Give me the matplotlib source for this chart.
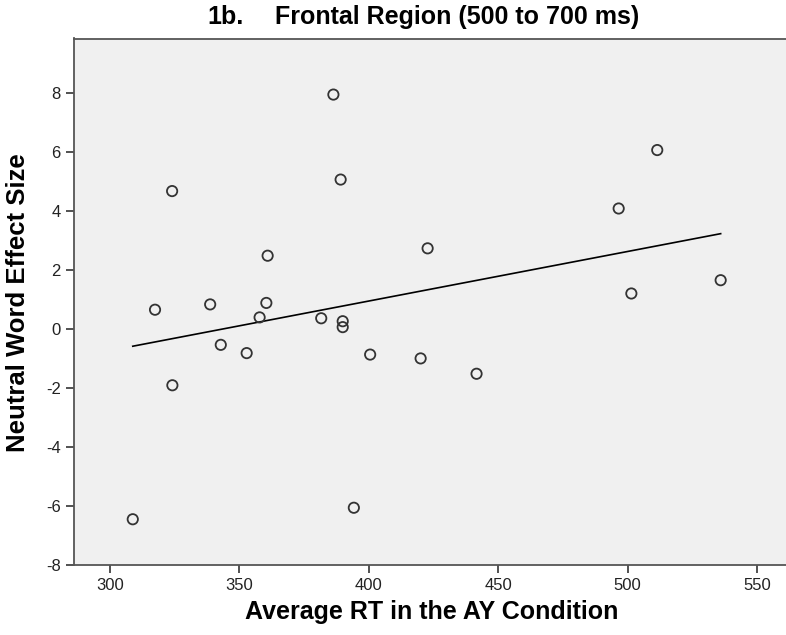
import numpy as np
import matplotlib
matplotlib.use('Agg')
import matplotlib.pyplot as plt

# average RT in the AY condition (ms) and neutral word effect size
avg_rt = [324.0, 360.9, 317.4, 338.7, 360.4, 357.8, 342.8, 352.8, 324.1, 308.8,
          381.6, 389.9, 389.9, 400.5, 420.0, 441.6, 394.2, 386.3, 389.1, 422.7,
          511.4, 496.5, 501.4, 535.9]
effect = [4.67, 2.48, 0.65, 0.83, 0.88, 0.39, -0.54, -0.82, -1.91, -6.45,
          0.36, 0.26, 0.06, -0.87, -1.00, -1.52, -6.06, 7.94, 5.06, 2.73,
          6.06, 4.08, 1.20, 1.65]

x_ticks = [300, 350, 400, 450, 500, 550]
y_ticks = [-8, -6, -4, -2, 0, 2, 4, 6, 8]

title_num = '1b.'
title = 'Frontal Region (500 to 700 ms)'
x_label = 'Average RT in the AY Condition'
y_label = 'Neutral Word Effect Size'

plt.rcParams['axes.unicode_minus'] = False
plt.rcParams['font.family'] = ['Liberation Sans', 'DejaVu Sans']

fig = plt.figure(figsize=(7.86, 6.35), dpi=100)
ax = fig.add_axes([74 / 786, 70 / 635, 722 / 786, 526.5 / 635])
ax.set_facecolor('#f0f0f0')

x = np.array(avg_rt)
y = np.array(effect)
ax.scatter(x, y, s=55, facecolors='none', edgecolors='#333333', linewidths=1.3, zorder=3)

# linear fit line across the data range
slope, icpt = np.polyfit(x, y, 1)
xs = np.array([x.min(), x.max()])
ax.plot(xs, slope * xs + icpt, color='black', lw=1.2, zorder=2)

ax.set_xlim(286.1, 565)
ax.set_ylim(-8, 9.84)
ax.set_xticks(x_ticks)
ax.set_yticks(y_ticks)
ax.set_xticklabels([str(v) for v in x_ticks], fontsize=12)
ax.set_yticklabels([str(v) for v in y_ticks], fontsize=12)
ax.tick_params(direction='out', length=6, width=1.2, color='#333333', labelcolor='#222222')
for sp in ax.spines.values():
    sp.set_color('#555555')
    sp.set_linewidth(1.3)

fig.text(244 / 786, 1 - 17 / 635, title_num, ha='right', va='center',
         fontsize=18, fontweight='bold')
fig.text(639 / 786, 1 - 17 / 635, title, ha='right', va='center',
         fontsize=18, fontweight='bold')
fig.text(432 / 786, 1 - 612 / 635, x_label, ha='center', va='center',
         fontsize=18, fontweight='bold')
fig.text(18 / 786, 1 - 303 / 635, y_label, ha='center', va='center',
         rotation=90, fontsize=18.5, fontweight='bold')

fig.savefig('out.png', dpi=100)
